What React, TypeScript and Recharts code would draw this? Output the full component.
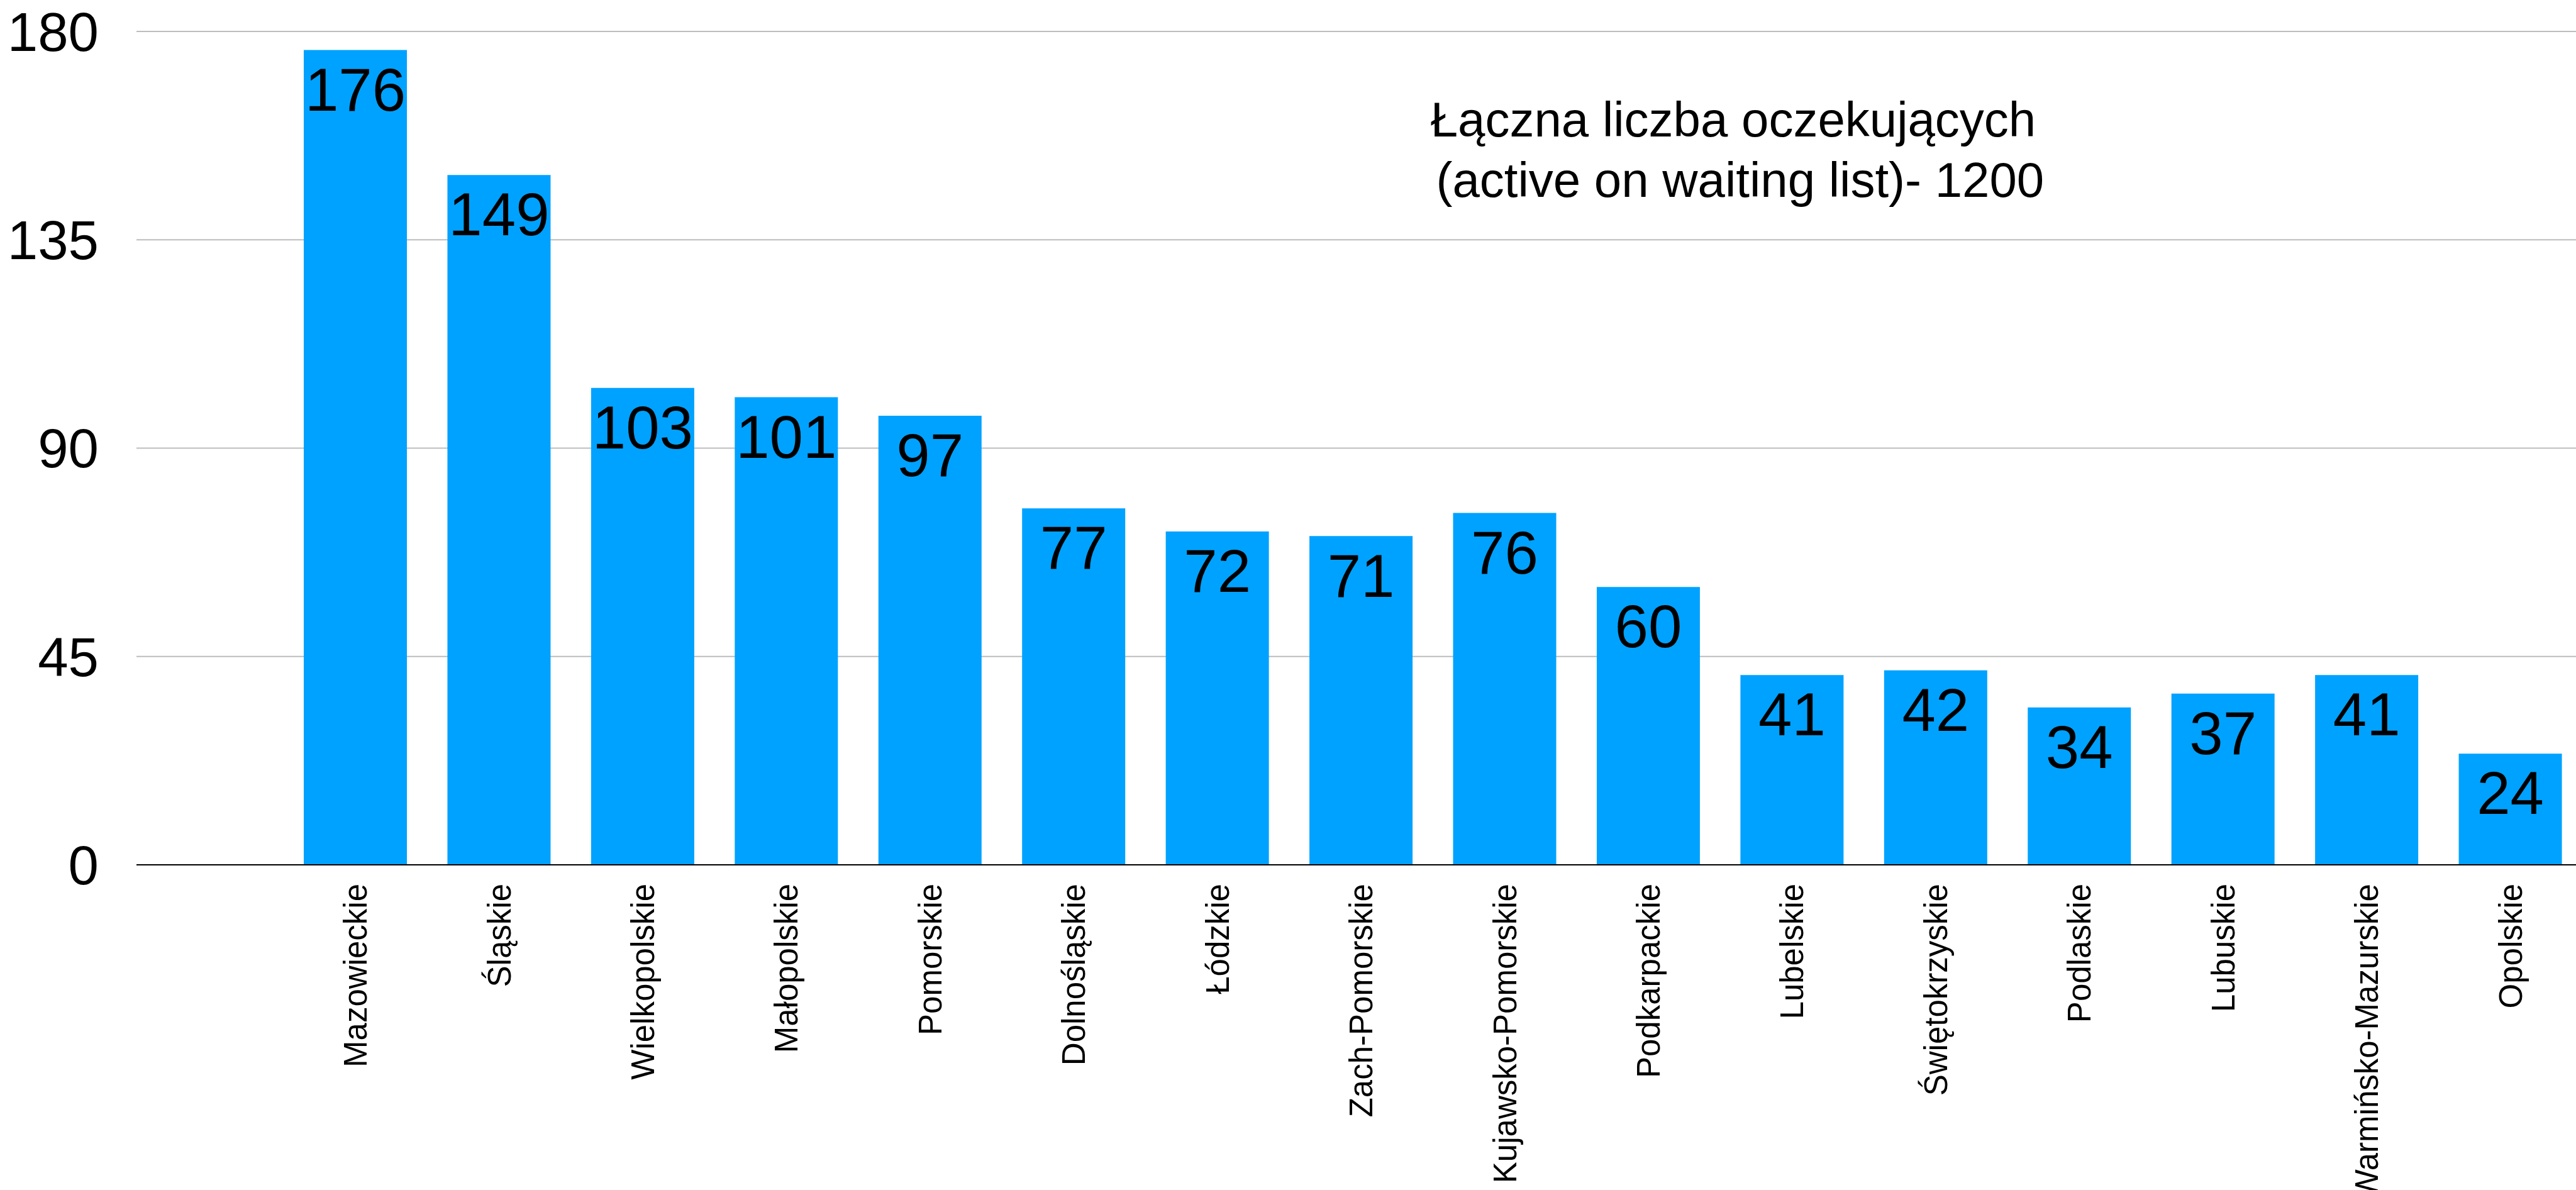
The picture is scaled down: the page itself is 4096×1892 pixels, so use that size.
import { BarChart, Bar, XAxis, YAxis, CartesianGrid, LabelList } from "recharts";

const regions = [
  "Mazowieckie",
  "Śląskie",
  "Wielkopolskie",
  "Małopolskie",
  "Pomorskie",
  "Dolnośląskie",
  "Łódzkie",
  "Zach-Pomorskie",
  "Kujawsko-Pomorskie",
  "Podkarpackie",
  "Lubelskie",
  "Świętokrzyskie",
  "Podlaskie",
  "Lubuskie",
  "Warmińsko-Mazurskie",
  "Opolskie",
];

const waiting = [176, 149, 103, 101, 97, 77, 72, 71, 76, 60, 41, 42, 34, 37, 41, 24];

const yTicks = [0, 45, 90, 135, 180];

const titleLines = ["Łączna liczba oczekujących", " (active on waiting list)- 1200"];

const data = regions.map((name, i) => ({ name, waiting: waiting[i] }));

const font = "'Liberation Sans', Arial, Helvetica, sans-serif";

function RegionTick({ x, y, payload }: any) {
  return (
    <g transform={`translate(${x},${y})`}>
      <text
        transform="rotate(-90)"
        textAnchor="end"
        dy="0.35em"
        fontSize={51}
        fill="#000"
        fontFamily={font}
      >
        {payload.value}
      </text>
    </g>
  );
}

export default function App() {
  return (
    <div
      style={{
        position: "fixed",
        left: 0,
        top: 0,
        width: 4096,
        height: 1892,
        background: "#fff",
        overflow: "hidden",
        fontFamily: font,
      }}
    >
      <BarChart
        width={4096}
        height={1892}
        data={data}
        margin={{ top: 50, right: -10, bottom: 0, left: 0 }}
      >
        <CartesianGrid
          vertical={false}
          stroke="#bdbdbd"
          strokeWidth={2}
        />
        <XAxis
          dataKey="name"
          interval={0}
          height={517}
          padding={{ left: 234, right: 0 }}
          tickLine={false}
          tickSize={0}
          tickMargin={30}
          axisLine={{ stroke: "#000", strokeWidth: 2 }}
          tick={<RegionTick />}
        />
        <YAxis
          domain={[0, 180]}
          ticks={yTicks}
          width={217}
          axisLine={false}
          tickLine={false}
          tickSize={0}
          tickMargin={60}
          tick={{ fontSize: 87, fill: "#000", fontFamily: font }}
        />
        <Bar
          dataKey="waiting"
          fill="#00A2FF"
          barSize={164}
          isAnimationActive={false}
        >
          <LabelList
            dataKey="waiting"
            position="insideTop"
            offset={28}
            fill="#000"
            fontSize={96}
            fontFamily={font}
          />
        </Bar>
      </BarChart>
      <div
        style={{
          position: "absolute",
          left: 2256,
          top: 142,
          width: 1000,
          textAlign: "center",
          fontSize: 78,
          lineHeight: "96px",
          color: "#000",
          whiteSpace: "pre",
        }}
      >
        {titleLines.map((line) => (
          <div key={line}>{line}</div>
        ))}
      </div>
    </div>
  );
}
